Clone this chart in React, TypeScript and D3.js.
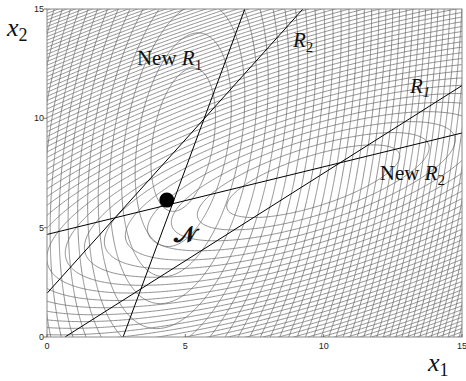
import React, { useMemo } from "react";
import * as d3 from "d3";

const W = 466;
const H = 381;
const plotLeft = 47;
const plotRight = 462;
const plotTop = 9;
const plotBottom = 337;

const axisDomain = [0, 15];
const xTicks = [0, 5, 10, 15];
const yTicks = [0, 5, 10, 15];

// cost surfaces: centre, slope of the major axis, semi-axes of the unit level, power
const cost1Center = [4.9, 9.0];
const cost1Slope = 8;
const cost1Axes = [3.3, 1.1];
const cost2Center = [9.6, 7.1];
const cost2Slope = 0.42;
const cost2Axes = [3.36, 1.12];
const costPower = 1.5;
const cost1Levels = d3.range(1.0, 70, 0.82);
const cost2Levels = d3.range(1.0, 70, 0.55);

// reaction lines (two points each, data units)
const lineR1 = [[0.65, 0], [15, 11.5]];
const lineR2 = [[0, 2.0], [9.25, 15]];
const lineNewR1 = [[2.75, 0], [7.15, 15]];
const lineNewR2 = [[0, 4.69], [15, 9.33]];
const nashPoint = [4.33, 6.26];

// label anchors (data units)
const labelNewR1 = [3.25, 12.44];
const labelR2 = [8.89, 13.26];
const labelR1 = [13.12, 11.16];
const labelNewR2 = [12.03, 7.18];
const labelN = [4.6, 4.35];

function cost(center: number[], slope: number, axes: number[]) {
  const th = Math.atan(slope);
  const c = Math.cos(th), s = Math.sin(th);
  return (x: number, y: number) => {
    const dx = x - center[0], dy = y - center[1];
    const u = dx * c + dy * s;
    const v = -dx * s + dy * c;
    const r2 = (u / axes[0]) ** 2 + (v / axes[1]) ** 2;
    return Math.pow(r2, costPower / 2);
  };
}

export default function App() {
  const sx = d3.scaleLinear().domain(axisDomain).range([plotLeft, plotRight]);
  const sy = d3.scaleLinear().domain(axisDomain).range([plotBottom, plotTop]);

  const paths = useMemo(() => {
    const n = 340;
    const g0 = -0.5;
    const step = 16 / (n - 1);
    const f1 = cost(cost1Center, cost1Slope, cost1Axes);
    const f2 = cost(cost2Center, cost2Slope, cost2Axes);
    const v1 = new Array(n * n);
    const v2 = new Array(n * n);
    for (let j = 0; j < n; j++) {
      for (let i = 0; i < n; i++) {
        const x = g0 + i * step, y = g0 + j * step;
        v1[j * n + i] = f1(x, y);
        v2[j * n + i] = f2(x, y);
      }
    }
    const proj = d3.geoTransform({
      point(x: number, y: number) {
        (this as any).stream.point(sx(g0 + x * step), sy(g0 + y * step));
      },
    });
    const gp = d3.geoPath(proj as any);
    const c1 = d3.contours().size([n, n]).thresholds(cost1Levels)(v1);
    const c2 = d3.contours().size([n, n]).thresholds(cost2Levels)(v2);
    return [...c1, ...c2].map((c) => gp(c as any) || "");
  }, []);

  const line = (pts: number[][], key: string) => (
    <line
      key={key}
      x1={sx(pts[0][0])}
      y1={sy(pts[0][1])}
      x2={sx(pts[1][0])}
      y2={sy(pts[1][1])}
      stroke="#000"
      strokeWidth={1}
    />
  );

  const serif = "'Liberation Serif', 'Times New Roman', serif";
  const sans = "'Liberation Sans', Arial, sans-serif";

  return (
    <svg width={W} height={H} style={{ display: "block", position: "absolute", left: 0, top: 0 }}>
      <rect width={W} height={H} fill="#fff" />
      <defs>
        <clipPath id="plotclip">
          <rect x={plotLeft} y={plotTop} width={plotRight - plotLeft} height={plotBottom - plotTop} />
        </clipPath>
      </defs>
      <g clipPath="url(#plotclip)">
        {paths.map((d, i) => (
          <path key={i} d={d} fill="none" stroke="#6a6a6a" strokeWidth={0.75} />
        ))}
        {line(lineR1, "r1")}
        {line(lineR2, "r2")}
        {line(lineNewR1, "nr1")}
        {line(lineNewR2, "nr2")}
      </g>
      <rect
        x={plotLeft}
        y={plotTop}
        width={plotRight - plotLeft}
        height={plotBottom - plotTop}
        fill="none"
        stroke="#888"
        strokeWidth={1}
      />
      <circle cx={sx(nashPoint[0])} cy={sy(nashPoint[1])} r={7.5} fill="#000" />

      {yTicks.map((t) => (
        <g key={"y" + t}>
          <line x1={plotLeft - 3} x2={plotLeft} y1={sy(t)} y2={sy(t)} stroke="#555" strokeWidth={0.8} />
          <text x={plotLeft - 3} y={sy(t) + 3} textAnchor="end" fontFamily={sans} fontSize={9} fill="#222">
            {t}
          </text>
        </g>
      ))}
      {xTicks.map((t) => (
        <g key={"x" + t}>
          <line x1={sx(t)} x2={sx(t)} y1={plotBottom} y2={plotBottom - 3} stroke="#555" strokeWidth={0.8} />
          <text x={sx(t)} y={plotBottom + 12} textAnchor="middle" fontFamily={sans} fontSize={9} fill="#222">
            {t}
          </text>
        </g>
      ))}

      <text x={7} y={36} fontFamily={serif} fontSize={26} fill="#111">
        <tspan fontStyle="italic">x</tspan>
        <tspan fontSize={18} dy={5}>2</tspan>
      </text>
      <text x={428} y={371} fontFamily={serif} fontSize={26} fill="#111">
        <tspan fontStyle="italic">x</tspan>
        <tspan fontSize={18} dy={5}>1</tspan>
      </text>

      <text x={sx(labelNewR1[0])} y={sy(labelNewR1[1])} fontFamily={serif} fontSize={21} fill="#111">
        <tspan>New </tspan>
        <tspan fontStyle="italic">R</tspan>
        <tspan fontSize={15} dy={5}>1</tspan>
      </text>
      <text x={sx(labelR2[0])} y={sy(labelR2[1])} fontFamily={serif} fontSize={21} fill="#111">
        <tspan fontStyle="italic">R</tspan>
        <tspan fontSize={15} dy={5}>2</tspan>
      </text>
      <text x={sx(labelR1[0])} y={sy(labelR1[1])} fontFamily={serif} fontSize={21} fill="#111">
        <tspan fontStyle="italic">R</tspan>
        <tspan fontSize={15} dy={4} fontStyle="italic">1</tspan>
      </text>
      <text x={sx(labelNewR2[0])} y={sy(labelNewR2[1])} fontFamily={serif} fontSize={21} fill="#111">
        <tspan>New </tspan>
        <tspan fontStyle="italic">R</tspan>
        <tspan fontSize={15} dy={5}>2</tspan>
      </text>
      <text
        x={sx(labelN[0])}
        y={sy(labelN[1])}
        fontFamily="'DejaVu Serif', 'DejaVu Sans', serif"
        fontSize={23}
        fontWeight="bold"
        fill="#111"
      >
        𝒩
      </text>
    </svg>
  );
}
